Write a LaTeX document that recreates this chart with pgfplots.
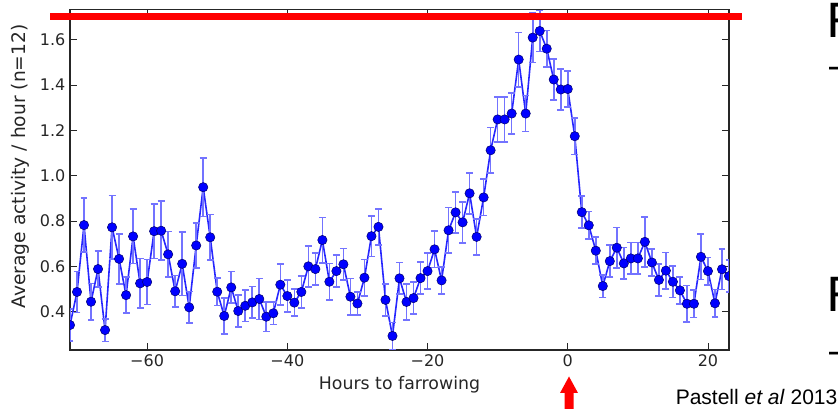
\documentclass[border=0pt]{standalone}
\usepackage{fontspec}
\setmainfont{DejaVu Sans}
\newfontfamily\arial{Liberation Sans}
\newfontfamily\carlito{Carlito}
\usepackage{pgfplots}
\usepackage{pgfplotstable}
\pgfplotsset{compat=1.18}

\pgfplotstableread{
h v e
-71 0.341 0.07
-70 0.487 0.09
-69 0.782 0.12
-68 0.444 0.08
-67 0.588 0.08
-66 0.319 0.05
-65 0.772 0.14
-64 0.633 0.11
-63 0.473 0.08
-62 0.732 0.12
-61 0.525 0.11
-60 0.531 0.10
-59 0.755 0.12
-58 0.757 0.13
-57 0.653 0.10
-56 0.490 0.07
-55 0.611 0.14
-54 0.419 0.07
-53 0.692 0.10
-52 0.949 0.13
-51 0.728 0.10
-50 0.488 0.06
-49 0.381 0.08
-48 0.507 0.07
-47 0.403 0.07
-46 0.426 0.07
-45 0.441 0.07
-44 0.456 0.09
-43 0.378 0.065
-42 0.393 0.05
-41 0.519 0.09
-40 0.469 0.07
-39 0.440 0.06
-38 0.487 0.07
-37 0.600 0.09
-36 0.588 0.07
-35 0.716 0.10
-34 0.532 0.08
-33 0.579 0.07
-32 0.609 0.07
-31 0.466 0.08
-30 0.436 0.05
-29 0.550 0.08
-28 0.733 0.09
-27 0.774 0.08
-26 0.452 0.07
-25 0.293 0.06
-24 0.547 0.07
-23 0.443 0.08
-22 0.460 0.07
-21 0.548 0.07
-20 0.579 0.08
-19 0.675 0.08
-18 0.538 0.06
-17 0.759 0.10
-16 0.838 0.09
-15 0.794 0.09
-14 0.922 0.09
-13 0.730 0.08
-12 0.904 0.08
-11 1.112 0.10
-10 1.248 0.10
-9 1.248 0.10
-8 1.274 0.09
-7 1.512 0.12
-6 1.274 0.08
-5 1.609 0.11
-4 1.638 0.09
-3 1.560 0.08
-2 1.424 0.09
-1 1.380 0.09
0 1.382 0.08
1 1.174 0.08
2 0.839 0.07
3 0.781 0.06
4 0.669 0.06
5 0.513 0.05
6 0.623 0.07
7 0.682 0.09
8 0.613 0.07
9 0.635 0.07
10 0.635 0.07
11 0.708 0.11
12 0.617 0.06
13 0.540 0.07
14 0.581 0.08
15 0.532 0.07
16 0.494 0.06
17 0.435 0.08
18 0.435 0.06
19 0.642 0.10
20 0.579 0.06
21 0.437 0.06
22 0.587 0.09
23 0.557 0.07
}\activity

\begin{document}
\begin{tikzpicture}[x=0.75pt,y=0.75pt]
\path[use as bounding box] (0,0) rectangle (838,409);
\begin{axis}[
  at={(52.5pt,44.25pt)}, anchor=south west, scale only axis,
  width=494.25pt, height=255.4pt,
  xmin=-71, xmax=23, ymin=0.231, ymax=1.733,
  xtick={-60,-40,-20,0,20}, xticklabels={−60,−40,−20,0,20},
  ytick={0.4,0.6,0.8,1.0,1.2,1.4,1.6},
  yticklabels={0.4,0.6,0.8,1.0,1.2,1.4,1.6},
  tick align=inside, major tick length=5pt,
  tick style={black!85, line width=0.6pt},
  axis line style={black!85, line width=0.9pt},
  ticklabel style={font=\fontsize{12}{14}\selectfont, text=black!85},
  xlabel={Hours to farrowing},
  ylabel={Average activity / hour (n=12)},
  xlabel style={font=\fontsize{13}{15}\selectfont, text=black!85, at={(axis description cs:0.5,0)}, anchor=base, yshift=-30pt},
  ylabel style={font=\fontsize{14}{16}\selectfont, text=black!85, at={(axis description cs:-0.0759,0.539)}, anchor=center},
  clip marker paths=true,
]
\addplot[blue!85, line width=1.2pt, mark=*, mark size=3.5pt,
  mark options={fill=blue, draw=blue!45!black, line width=0.4pt},
  error bars/.cd, y dir=both, y explicit,
  error bar style={blue!55, line width=1.2pt},
  error mark options={rotate=90, mark size=2.6pt, blue!55, line width=1.2pt}]
  table[x=h, y=v, y error=e] {\activity};
\end{axis}
% red highlight line and arrow
\draw[red, line width=5.4pt] (50,392.5) -- (742,392.5);
\fill[red] (569,32.5) -- (578,16) -- (573.5,16) -- (573.5,-3) -- (564.5,-3) -- (564.5,16) -- (560,16) -- cycle;
% slide text fragments at the right edge
\node[anchor=base west, inner sep=0pt, font=\carlito\fontsize{40}{44}\selectfont] at (827.5,371) {F};
\node[anchor=base west, inner sep=0pt, font=\carlito\fontsize{32}{36}\selectfont] at (826,328) {–};
\node[anchor=base west, inner sep=0pt, font=\carlito\fontsize{40}{44}\selectfont] at (827.5,97) {F};
\node[anchor=base west, inner sep=0pt, font=\carlito\fontsize{32}{36}\selectfont] at (826,43) {–};
\node[anchor=base west, inner sep=0pt, font=\arial\fontsize{15.75}{18}\selectfont] at (675.5,4) {Pastell \textit{et al} 2013};
\end{tikzpicture}
\end{document}
